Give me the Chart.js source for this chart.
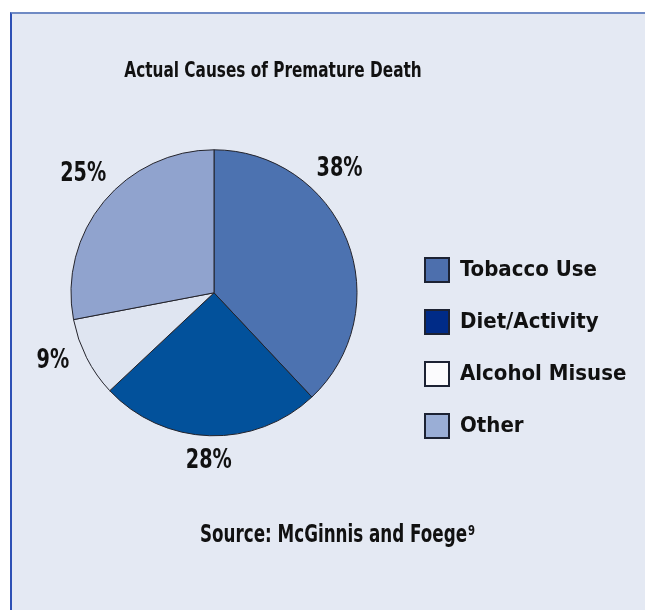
<!DOCTYPE html>
<html>
<head>
<meta charset="utf-8">
<title>Actual Causes of Premature Death</title>
<script src="https://cdn.jsdelivr.net/npm/chart.js@4"></script>
<style>
  html, body { margin: 0; padding: 0; background: #ffffff; }
  #panel {
    position: absolute; left: 10px; top: 12px; width: 635px; height: 598px;
    box-sizing: border-box; background: #e4e9f3;
    border-top: 2px solid #6f8ac4; border-left: 2px solid #2d50b5;
  }
  #chart { position: absolute; left: 0; top: 0; }
</style>
</head>
<body>
<div id="panel"></div>
<canvas id="chart" width="645" height="610"></canvas>
<script>
// Chart data
const categories = ['Tobacco Use', 'Diet/Activity', 'Alcohol Misuse', 'Other'];
// slice sizes as drawn in the source figure (its printed labels swap 25/28)
const sliceShares = [38, 25, 9, 28];
const pctLabels = ['38%', '28%', '9%', '25%'];
const sliceColors = ['#4c72b0', '#02519b', '#dfe5f1', '#90a3ce'];
const legendColors = ['#4d6fad', '#002b87', '#fbfbfd', '#9aaed6'];

const titleText = 'Actual Causes of Premature Death';
const sourceText = 'Source: McGinnis and Foege';
const sourceNote = '9';

const FONT = "'DejaVu Sans Condensed', 'Liberation Sans', sans-serif";
const TEXT_COLOR = '#111111';

// layout numbers
const pieCenterX = 214;
const pieRadius = 143;
const legendFontSize = 22;
const legendPad = 28;
const boxSize = 24;
const legendBoxLeft = 425;
const areaTop = 119.6;
const areaBottom = 466;

// text squeezed sideways to look like the condensed face of the original
function squeezedText(ctx, text, x, y, sx, align) {
    ctx.save();
    ctx.translate(x, y);
    ctx.scale(sx, 1);
    ctx.textAlign = align;
    ctx.fillText(text, 0, 0);
    ctx.restore();
}

// percentage labels outside the slices
const pctLabelPlugin = {
    id: 'pctLabels',
    afterDatasetsDraw(chart, args, opts) {
        const ctx = chart.ctx;
        const arcs = chart.getDatasetMeta(0).data;
        ctx.save();
        ctx.font = 'bold ' + opts.size + 'px ' + FONT;
        ctx.fillStyle = TEXT_COLOR;
        ctx.textBaseline = 'alphabetic';
        const capH = opts.size * 0.729;
        arcs.forEach((arc, i) => {
            const p = arc.getProps(['x', 'y', 'startAngle', 'endAngle', 'outerRadius'], true);
            const shift = (opts.angleShift[i] || 0) * Math.PI / 180;
            const mid = (p.startAngle + p.endAngle) / 2 + shift;
            const halfW = ctx.measureText(pctLabels[i]).width * opts.squeeze / 2;
            const cos = Math.cos(mid), sin = Math.sin(mid);
            const d = p.outerRadius + opts.gap + halfW * Math.abs(cos) + capH / 2 * Math.abs(sin);
            squeezedText(ctx, pctLabels[i], p.x + cos * d, p.y + sin * d + capH / 2, opts.squeeze, 'center');
        });
        ctx.restore();
    }
};

// heading and source line
const captionPlugin = {
    id: 'captions',
    afterDraw(chart) {
        const ctx = chart.ctx;
        ctx.save();
        ctx.fillStyle = TEXT_COLOR;
        ctx.textBaseline = 'alphabetic';
        ctx.font = 'bold 22px ' + FONT;
        squeezedText(ctx, titleText, 273, 77.3, 0.773, 'center');

        ctx.font = 'bold 25px ' + FONT;
        const w = ctx.measureText(sourceText).width * 0.745;
        const x0 = 333.5 - w / 2;
        squeezedText(ctx, sourceText, x0, 541.5, 0.745, 'left');
        ctx.font = 'bold 14px ' + FONT;
        squeezedText(ctx, sourceNote, x0 + w + 1, 535, 0.8, 'left');
        ctx.restore();
    }
};

const chart = new Chart(document.getElementById('chart'), {
    type: 'pie',
    data: {
        labels: categories,
        datasets: [{
            data: sliceShares,
            backgroundColor: sliceColors,
            borderColor: '#23232b',
            borderWidth: 1,
            radius: pieRadius
        }]
    },
    options: {
        responsive: false,
        animation: false,
        devicePixelRatio: 1,
        layout: {
            padding: {left: 30, right: 20, top: areaTop, bottom: 610 - areaBottom}
        },
        plugins: {
            tooltip: {enabled: false},
            title: {display: false},
            legend: {
                position: 'right',
                align: 'end',
                labels: {
                    boxWidth: boxSize,
                    boxHeight: boxSize,
                    padding: legendPad,
                    color: TEXT_COLOR,
                    font: {family: FONT, size: legendFontSize, weight: 'bold'},
                    generateLabels(chart) {
                        return chart.data.labels.map((text, i) => ({
                            text: text,
                            fillStyle: legendColors[i],
                            strokeStyle: '#1c2233',
                            lineWidth: 2,
                            fontColor: TEXT_COLOR,
                            hidden: false,
                            index: i
                        }));
                    }
                }
            },
            pctLabels: {size: 27, squeeze: 0.79, gap: 12, angleShift: {0: -23.6, 2: 5, 3: 3.3}}
        }
    },
    plugins: [pctLabelPlugin, captionPlugin]
});

// nudge the side padding so the legend boxes and the pie centre land in place
const pad = chart.options.layout.padding;
for (let k = 0; k < 2; k++) {
    const shift = (legendBoxLeft - legendPad) - chart.legend.left;
    pad.right = Math.max(0, pad.right - shift);
    pad.left = 2 * pieCenterX - (chart.legend.left + shift);
    chart.update('none');
}
</script>
</body>
</html>
